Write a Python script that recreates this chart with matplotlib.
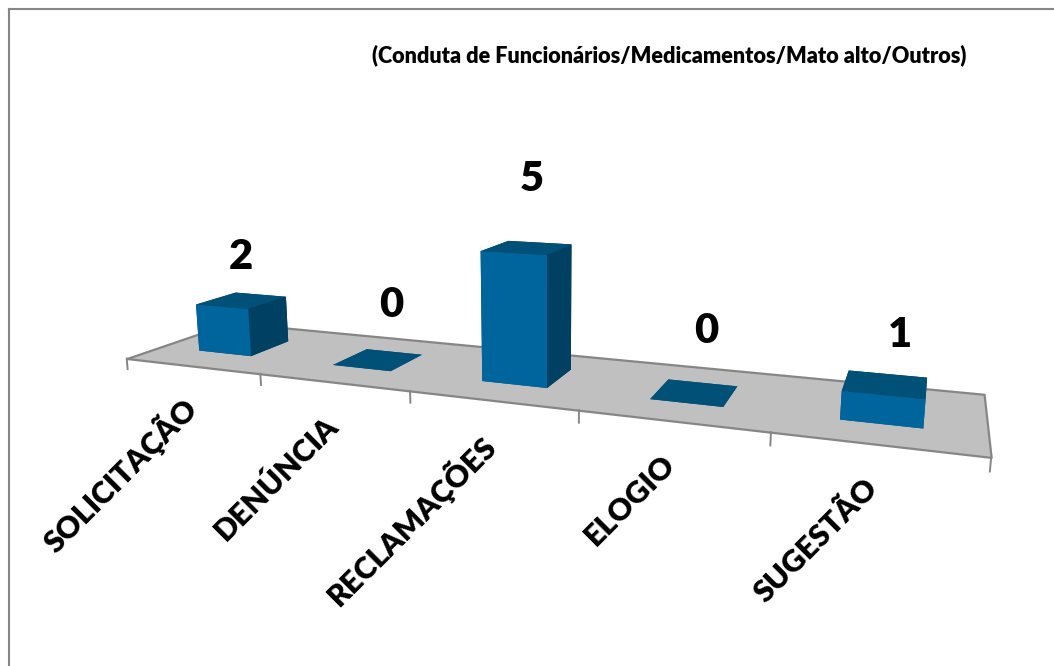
import matplotlib
matplotlib.use('Agg')
import matplotlib.pyplot as plt
from matplotlib.lines import Line2D
from mpl_toolkits.mplot3d.art3d import Poly3DCollection

categorias = ['SOLICITAÇÃO', 'DENÚNCIA', 'RECLAMAÇÕES', 'ELOGIO', 'SUGESTÃO']
valores = [2, 0, 5, 0, 1]
titulo = '(Conduta de Funcionários/Medicamentos/Mato alto/Outros)'

# pixel centres of the texts in the picture
pos_valores = [(241, 257), (391, 305), (532, 179), (706, 331), (900, 335)]
pos_categorias = [(120, 475), (276, 478), (411, 520), (630, 500), (816, 541)]

plt.rcParams['font.family'] = ['Lato', 'DejaVu Sans']
W, H = 1054, 666

fig = plt.figure(figsize=(W / 100, H / 100), dpi=100)
ax = fig.add_subplot(projection='3d', computed_zorder=False)
ax.set_position([0.0781, -0.1175, 0.8218, 1.3005])
ax.set_xlim(0, 5)
ax.set_ylim(0, 1)
ax.set_zlim(0, 6)
ax.view_init(11.7777, -68.6141, 0.2062)
ax.set_proj_type('persp', focal_length=0.2255)
ax.set_box_aspect((1, 0.2127, 0.1829))
ax.set_axis_off()

n = len(valores)

# grey floor
chao = Poly3DCollection([[(0, 0, 0), (n, 0, 0), (n, 1, 0), (0, 1, 0)]],
                        facecolor='#C0C0C0', edgecolor='#868686', linewidth=1.6, zorder=1)
chao.set_clip_on(False)
ax.add_collection3d(chao)

# ticks under the front edge
for i in range(n + 1):
    ax.plot([i, i], [0, 0], [0, -0.45], color='#868686', lw=1.4, zorder=1, clip_on=False)

# bars, faces are -z, +z, -y, +y, -x, +x
frente = '#00659C'
topo = '#005078'
lado = '#004063'
largura = 0.4004
fundo = 0.3884
cores = [topo, topo, frente, lado, lado, lado]
for i, v in enumerate(valores):
    barra = ax.bar3d(i + 0.5 - largura / 2, 0.5 - fundo / 2, 0, largura, fundo, v,
                     color=cores, shade=False, zorder=2)
    barra.set_clip_on(False)

# value labels
for v, (x, y) in zip(valores, pos_valores):
    fig.text(x / W, 1 - y / H, str(v), fontsize=30, fontweight='heavy',
             color='black', ha='center', va='center')

# category labels
for nome, (x, y) in zip(categorias, pos_categorias):
    fig.text(x / W, 1 - y / H, nome, fontsize=22, fontweight='heavy', color='black',
             rotation=45, rotation_mode='anchor', ha='center', va='center')

fig.text(669 / W, 1 - 55 / H, titulo, fontsize=15.6, fontweight='heavy',
         color='black', ha='center', va='center')

# chart frame, only top and left are inside the picture
fig.add_artist(Line2D([8.5 / W, 8.5 / W], [0, 1 - 8.5 / H], color='#868686', lw=1.5))
fig.add_artist(Line2D([8.5 / W, 1], [1 - 8.5 / H, 1 - 8.5 / H], color='#868686', lw=1.5))

fig.savefig('out.png', dpi=100)
